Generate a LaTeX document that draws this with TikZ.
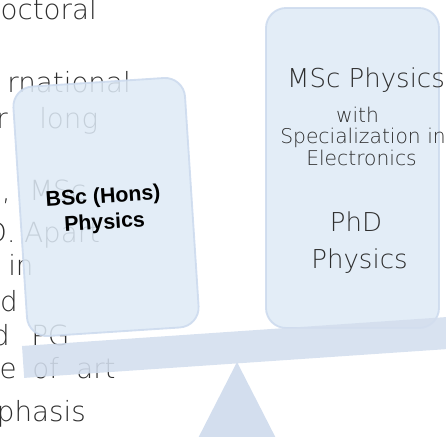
\documentclass[tikz,border=0pt]{standalone}
\usepackage{fontspec}
\newfontfamily\thinfont{DejaVuSans-ExtraLight.ttf}
\newfontfamily\arialfont{Liberation Sans}
\definecolor{textgray}{HTML}{2E2E2E}
\definecolor{cardfill}{HTML}{DEEAF6}
\definecolor{cardline}{HTML}{CCDAEE}
\definecolor{beamblue}{HTML}{D3DEEE}
\tikzset{
backword/.style={font=\thinfont\fontsize{20.8}{24}\selectfont,text=textgray,inner sep=0pt},
card/.style={draw=cardline,fill=cardfill,opacity=0.86,line width=1.4pt,rounded corners=15pt,inner sep=0pt},
bigline/.style={font=\thinfont\fontsize{19.5}{23}\selectfont,text=textgray,inner sep=0pt,anchor=base},
smallline/.style={font=\thinfont\fontsize{15.2}{18}\selectfont,text=textgray,inner sep=0pt,anchor=base},
boldline/.style={font=\arialfont\bfseries\fontsize{16}{19}\selectfont,text=black,inner sep=0pt,anchor=base,rotate=3.7}
}
\begin{document}
\begin{tikzpicture}[x=0.75pt,y=-0.75pt]
\useasboundingbox (0,0) rectangle (446,436);
\clip (0,0) rectangle (446,436);
\coordinate (B0) at (22,346);
\coordinate (T0) at (237,362);
% text behind the scale
\node[backword,anchor=base east] (w1) at (97,19) {octoral};
\node[backword,anchor=base east] (w2) at (131,92) {rnational};
\node[backword,anchor=base east] (w3) at (8,128) {r};
\node[backword,anchor=base west] (w4) at (39,128) {long};
\node[backword,anchor=base east] (w5) at (11,200) {s,};
\node[backword,anchor=base west] (w6) at (29,200) {MSc};
\node[backword,anchor=base east] (w7) at (16,242) {D.};
\node[backword,anchor=base west] (w8) at (24,242) {Apart};
\node[backword,anchor=base west] (w9) at (8,275) {in};
\node[backword,anchor=base east] (w10) at (18,311) {ed};
\node[backword,anchor=base east] (w11) at (10,345) {d};
\node[backword,anchor=base west] (w12) at (31,345) {PG};
\node[backword,anchor=base east] (w13) at (17,378) {e};
\node[backword,anchor=base west] (w14) at (32,378) {of};
\node[backword,anchor=base west] (w15) at (76,378) {art};
\node[backword,anchor=base east] (w16) at (86,421) {phasis};
% the two pans
\node[card,minimum width=129pt,minimum height=187.5pt,rotate=3.7] (bscbox) at (106,207) {};
\node[card,minimum width=129.75pt,minimum height=240pt] (mscbox) at (352.5,168) {};
% beam and stand
\fill[beamblue,opacity=0.88,rotate around={3.9:(B0)}] (B0) rectangle ++(540,32);
\fill[beamblue] (T0)--(190,454)--(284,454)--cycle;
% labels
\node[boldline] (bsc1) at (103.5,203) {BSc (Hons)};
\node[boldline] (bsc2) at (105,229) {Physics};
\node[bigline] (msc1) at (366,87) {MSc Physics};
\node[smallline] (msc2) at (357.5,122) {with};
\node[smallline] (msc3) at (363,143) {Specialization in};
\node[smallline] (msc4) at (361.5,165) {Electronics};
\node[bigline] (phd1) at (356,231) {PhD};
\node[bigline] (phd2) at (359.5,268) {Physics};
\end{tikzpicture}
\end{document}
